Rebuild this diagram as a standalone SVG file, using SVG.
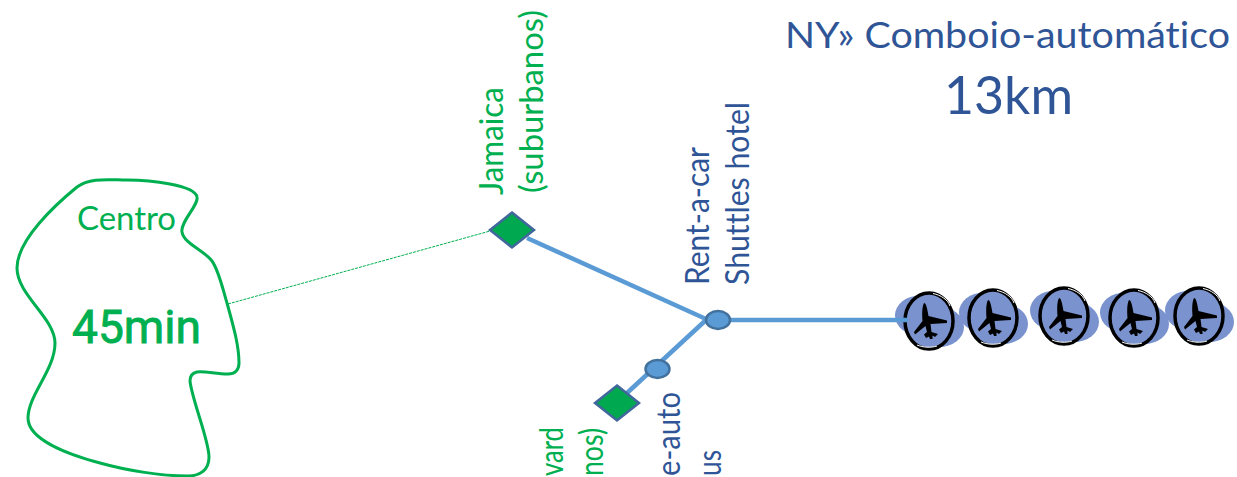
<svg xmlns="http://www.w3.org/2000/svg" width="1237" height="477" viewBox="0 0 1237 477">
<style>
.t{font-family:Lato,"Liberation Sans",sans-serif;font-variant-ligatures:none}
.g{fill:#00B050}.b{fill:#2F5597}
.s32{font-size:33px}
.link{fill:none;stroke:#5B9BD5;stroke-width:4.5}
.dia{fill:#00A84F;stroke:#41679C;stroke-width:2.5}
.stop{fill:#5B9BD5;stroke:#41719C;stroke-width:2.5}
.blob{fill:#7A93CE}
.ring{fill:none;stroke:#000;stroke-width:3.5}
</style>
<defs>
<g id="plane">
<ellipse class="blob" cx="-9" cy="-5.500" rx="25" ry="20"/>
<ellipse class="blob" cx="10" cy="6" rx="25" ry="20"/>
<ellipse class="blob" cx="0" cy="0" rx="24" ry="27"/>
<ellipse class="ring" cx="0" cy="0" rx="24" ry="28"/>
<path d="M4 -27.500 C12 -26 19 -21 21 -15 M-12 24 C-6 26.500 2 27 8 25" fill="none" stroke="#fff" stroke-width="1"/>
<path d="M-5 -18 C-3 -18 -2 -14 -0.500 -5 L18 -0.500 L18 2 L1.500 3 L2.500 11 L9 13 L6 16 L3.500 14.500 L3.500 18 L1 18 L0 15.500 L-3 17 L-5 13.500 L-2 11 L-3.500 5 L-14 13.500 L-15 11 L-6.500 0 C-7 -8 -7 -14 -5 -18Z" fill="#000"/>
</g>
</defs>
<g id="planes">
<use href="#plane" x="929" y="321"/>
<use href="#plane" x="993" y="318"/>
<use href="#plane" x="1064" y="316"/>
<use href="#plane" x="1134" y="318"/>
<use href="#plane" x="1199" y="316"/>
</g>
<g id="connectors">
<path d="M228 304 L490 231" fill="none" stroke="#00B050" stroke-width="1" stroke-dasharray="3 1"/>
<path class="link" d="M527 238 L706 319"/>
<path class="link" d="M706 320 L627 393"/>
<path class="link" d="M730 320 H908"/>
</g>
<g id="centro">
<path fill="none" stroke="#00B050" stroke-width="3" d="M197 197 C199 205 180 222 182 232 C184 244 204 250 212 261 C219 271 223 290 227 303 C233 325 239 345 239 363 C239 370 235 374 228 374 C216 374 205 371 197 372 C192 373 190 376 190 381 C192 400 209 440 209 457 C209 470 200 476 188 476 C160 476 125 470 100 463 C70 455 28 440 28 418 C28 395 55 370 55 343 C55 318 17 295 17 268 C17 240 55 205 77 187 C90 177 110 180 127 180 C150 180 195 185 197 197Z"/>
<text class="t g" x="77" y="230" font-size="32" textLength="99" lengthAdjust="spacingAndGlyphs">Centro</text>
<text x="72" y="343" font-family="Roboto,sans-serif" font-size="47" fill="#00B050" stroke="#00B050" stroke-width="0.900" textLength="129" lengthAdjust="spacingAndGlyphs">45min</text>
</g>
<g id="jamaica">
<polygon class="dia" points="512,212.500 534,230 512,247.500 490,230"/>
<text class="t g s32" transform="translate(503,195) rotate(-90)" textLength="108" lengthAdjust="spacingAndGlyphs">Jamaica</text>
<text class="t g s32" transform="translate(543,193) rotate(-90)" textLength="183" lengthAdjust="spacingAndGlyphs">(suburbanos)</text>
</g>
<g id="rentacar">
<ellipse class="stop" cx="718" cy="320" rx="12" ry="9"/>
<text class="t b s32" transform="translate(709,285) rotate(-90)" textLength="138" lengthAdjust="spacingAndGlyphs">Rent-a-car</text>
<text class="t b s32" transform="translate(749,285) rotate(-90)" textLength="183" lengthAdjust="spacingAndGlyphs">Shuttles hotel</text>
</g>
<g id="eauto">
<ellipse class="stop" cx="657.500" cy="369" rx="12" ry="9"/>
<text class="t b s32" transform="translate(680,476) rotate(-90)" textLength="84" lengthAdjust="spacingAndGlyphs">e-auto</text>
<text class="t b s32" transform="translate(721,476) rotate(-90)" textLength="26" lengthAdjust="spacingAndGlyphs">us</text>
</g>
<g id="howard">
<polygon class="dia" points="617,385.500 639,403 617,420.500 595,403"/>
<text class="t g s32" transform="translate(563,476) rotate(-90)" textLength="49" lengthAdjust="spacingAndGlyphs">vard</text>
<text class="t g s32" transform="translate(603,476) rotate(-90)" textLength="48" lengthAdjust="spacingAndGlyphs">nos)</text>
</g>
<g id="title">
<text class="t b" x="785" y="48" font-size="37" textLength="445" lengthAdjust="spacingAndGlyphs">NY» Comboio-automático</text>
<text class="t b" x="944" y="114" font-size="52" textLength="129" lengthAdjust="spacingAndGlyphs">13km</text>
</g>
</svg>
